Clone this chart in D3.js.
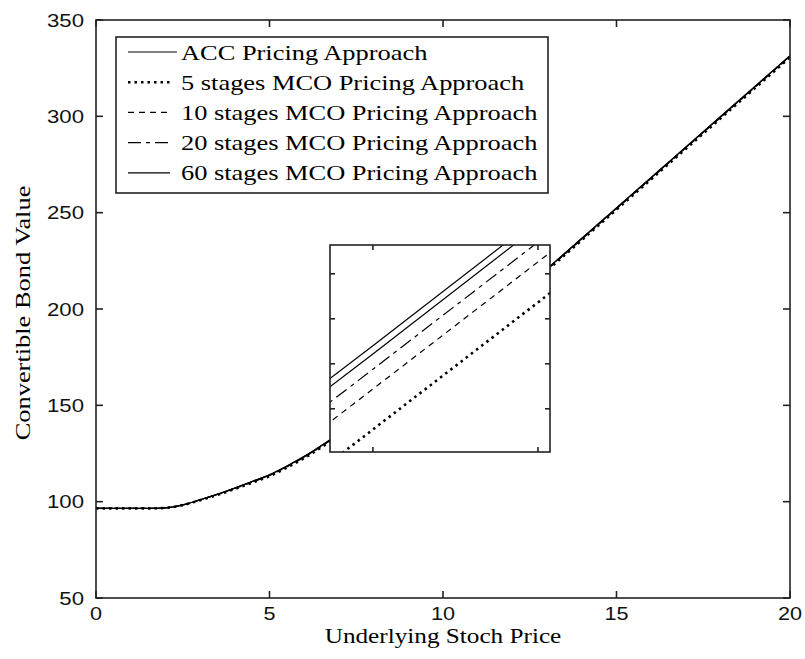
<!DOCTYPE html>
<html>
<head>
<meta charset="utf-8">
<script src="https://cdn.jsdelivr.net/npm/d3@7"></script>
<style>
    body { margin: 0; background: #fff; }
    svg { display: block; }
</style>
</head>
<body>
<script>
// underlying stock price grid
const stockPrice = [0, 0.5, 1, 1.5, 2, 2.5, 3, 3.5, 4, 4.5, 5, 5.5, 6, 6.5, 7, 7.5, 8, 8.5, 9, 9.5, 10,
    10.5, 11, 11.5, 12, 12.5, 13, 13.5, 14, 14.5, 15, 15.5, 16, 16.5, 17, 17.5, 18, 18.5, 19, 19.5, 20];

// convertible bond values
const accValues = [96.5, 96.5, 96.5, 96.5, 96.8, 98.3, 101.0, 103.9, 107.1, 110.5, 114.0, 118.5, 123.5, 129.2, 135.3, 141.7, 148.3, 155.0, 161.8, 168.7, 175.7,
    182.8, 190.0, 197.5, 205.2, 213.0, 220.9, 228.8, 236.7, 244.6, 252.5, 260.4, 268.3, 276.2, 284.1, 292.0, 299.9, 307.8, 315.7, 323.6, 331.5];
const mco5Values = [96.5, 96.5, 96.5, 96.5, 96.8, 98.21, 100.77, 103.53, 106.59, 109.85, 113.26, 117.66, 122.62, 128.27, 134.37, 140.77, 147.37, 154.07, 160.87, 167.77, 174.77,
    181.87, 189.07, 196.57, 204.27, 212.07, 219.97, 227.87, 235.77, 243.67, 251.57, 259.47, 267.37, 275.27, 283.17, 291.07, 298.97, 306.87, 314.77, 322.67, 330.57];
const mco10Values = [96.5, 96.5, 96.5, 96.5, 96.8, 98.25, 100.88, 103.71, 106.84, 110.16, 113.62, 118.07, 123.04, 128.72, 134.82, 141.22, 147.82, 154.52, 161.32, 168.22, 175.22,
    182.32, 189.52, 197.02, 204.72, 212.52, 220.42, 228.32, 236.22, 244.12, 252.02, 259.92, 267.82, 275.72, 283.62, 291.52, 299.42, 307.32, 315.22, 323.12, 331.02];
const mco20Values = [96.5, 96.5, 96.5, 96.5, 96.8, 98.27, 100.94, 103.80, 106.96, 110.32, 113.79, 118.27, 123.25, 128.94, 135.04, 141.44, 148.04, 154.74, 161.54, 168.44, 175.44,
    182.54, 189.74, 197.24, 204.94, 212.74, 220.64, 228.54, 236.44, 244.34, 252.24, 260.14, 268.04, 275.94, 283.84, 291.74, 299.64, 307.54, 315.44, 323.34, 331.24];
const mco60Values = [96.5, 96.5, 96.5, 96.5, 96.8, 98.29, 100.98, 103.86, 107.05, 110.44, 113.93, 118.42, 123.41, 129.11, 135.21, 141.61, 148.21, 154.91, 161.71, 168.61, 175.61,
    182.71, 189.91, 197.41, 205.11, 212.91, 220.81, 228.71, 236.61, 244.51, 252.41, 260.31, 268.21, 276.11, 284.01, 291.91, 299.81, 307.71, 315.61, 323.51, 331.41];

const seriesNames = ["ACC Pricing Approach", "5 stages MCO Pricing Approach", "10 stages MCO Pricing Approach",
    "20 stages MCO Pricing Approach", "60 stages MCO Pricing Approach"];

const xTicks = [0, 5, 10, 15, 20];
const yTicks = [50, 100, 150, 200, 250, 300, 350];
// zoomed window
const insetX = [9.974, 10.1073];
const insetY = [174.52, 176.82];
const insetXTicks = [10, 10.1];
const insetYTicks = [175, 175.5, 176, 176.5];

document.addEventListener("DOMContentLoaded", function() {
    const width = 805, height = 659;
    const m = {left: 96, right: 790, top: 20, bottom: 598};
    const serif = "'Liberation Serif', 'Times New Roman', serif";
    const sans = "'Liberation Sans', Arial, sans-serif";
    const stretchK = 1.2; // text in the picture is drawn wide

    const svg = d3.select("body").append("svg")
        .attr("width", width)
        .attr("height", height);

    const x = d3.scaleLinear().domain([0, 20]).range([m.left, m.right]);
    const y = d3.scaleLinear().domain([50, 350]).range([m.bottom, m.top]);

    const series = [
        {name: seriesNames[0], values: accValues, dash: null, w: 1.2},
        {name: seriesNames[1], values: mco5Values, dash: "2.5,4", w: 2.6},
        {name: seriesNames[2], values: mco10Values, dash: "6,5", w: 1.2},
        {name: seriesNames[3], values: mco20Values, dash: "13,5,4,5", w: 1.2},
        {name: seriesNames[4], values: mco60Values, dash: null, w: 1.2}
    ];

    const stretch = (sel) => {
        sel.each(function() {
            const len = this.getComputedTextLength();
            d3.select(this).attr("textLength", len * stretchK).attr("lengthAdjust", "spacingAndGlyphs");
        });
    };

    const defs = svg.append("defs");
    defs.append("clipPath").attr("id", "clipMain")
        .append("rect").attr("x", m.left).attr("y", m.top)
        .attr("width", m.right - m.left).attr("height", m.bottom - m.top);

    // main curves
    const line = d3.line()
        .x((d, i) => x(stockPrice[i]))
        .y(d => y(d))
        .curve(d3.curveMonotoneX);

    svg.append("g").attr("clip-path", "url(#clipMain)")
        .selectAll("path")
        .data(series)
        .join("path")
        .attr("d", d => line(d.values))
        .attr("fill", "none")
        .attr("stroke", "#000")
        .attr("stroke-width", d => d.w)
        .attr("stroke-dasharray", d => d.dash);

    // frame + inward ticks
    const frame = svg.append("g").attr("stroke", "#222").attr("stroke-width", 1.6);
    frame.append("rect")
        .attr("x", m.left).attr("y", m.top)
        .attr("width", m.right - m.left).attr("height", m.bottom - m.top)
        .attr("fill", "none");
    const tl = 7;
    xTicks.forEach(t => {
        frame.append("line").attr("x1", x(t)).attr("x2", x(t)).attr("y1", m.bottom).attr("y2", m.bottom - tl);
        frame.append("line").attr("x1", x(t)).attr("x2", x(t)).attr("y1", m.top).attr("y2", m.top + tl);
    });
    yTicks.forEach(t => {
        frame.append("line").attr("x1", m.left).attr("x2", m.left + tl).attr("y1", y(t)).attr("y2", y(t));
        frame.append("line").attr("x1", m.right).attr("x2", m.right - tl).attr("y1", y(t)).attr("y2", y(t));
    });

    // tick labels
    svg.append("g").selectAll("text")
        .data(xTicks)
        .join("text")
        .attr("x", d => x(d))
        .attr("y", 620)
        .attr("text-anchor", "middle")
        .attr("font-family", sans)
        .attr("font-size", 18)
        .attr("fill", "#111")
        .text(d => d)
        .call(stretch);

    svg.append("g").selectAll("text")
        .data(yTicks)
        .join("text")
        .attr("x", 84)
        .attr("y", d => y(d) + 6.5)
        .attr("text-anchor", "end")
        .attr("font-family", sans)
        .attr("font-size", 18.5)
        .attr("fill", "#111")
        .text(d => d)
        .call(stretch);

    // axis titles
    svg.append("text")
        .attr("x", (m.left + m.right) / 2)
        .attr("y", 643)
        .attr("text-anchor", "middle")
        .attr("font-family", serif)
        .attr("font-size", 21)
        .text("Underlying Stoch Price")
        .call(stretch);

    svg.append("text")
        .attr("transform", "translate(30," + 313 + ") rotate(-90)")
        .attr("text-anchor", "middle")
        .attr("font-family", serif)
        .attr("font-size", 22)
        .text("Convertible Bond Value")
        .call(stretch);

    // legend
    const lg = svg.append("g");
    lg.append("rect")
        .attr("x", 116).attr("y", 37)
        .attr("width", 432).attr("height", 156)
        .attr("fill", "#fff")
        .attr("stroke", "#222")
        .attr("stroke-width", 1.6);
    const rows = lg.selectAll("g.row")
        .data(series)
        .join("g")
        .attr("class", "row")
        .attr("transform", (d, i) => "translate(0," + (52 + i * 30.2) + ")");
    rows.append("line")
        .attr("x1", 128).attr("x2", (d, i) => i === 0 ? 177 : 170)
        .attr("stroke", "#000")
        .attr("stroke-width", d => d.w)
        .attr("stroke-dasharray", d => d.dash);
    rows.append("text")
        .attr("x", 181)
        .attr("y", 7.5)
        .attr("font-family", serif)
        .attr("font-size", 22)
        .text(d => d.name)
        .call(stretch);

    // inset zoom axes
    const ib = {left: 330, right: 550, top: 245, bottom: 452};
    const ix = d3.scaleLinear().domain(insetX).range([ib.left, ib.right]);
    const iy = d3.scaleLinear().domain(insetY).range([ib.bottom, ib.top]);

    defs.append("clipPath").attr("id", "clipInset")
        .append("rect").attr("x", ib.left).attr("y", ib.top)
        .attr("width", ib.right - ib.left).attr("height", ib.bottom - ib.top);

    svg.append("rect")
        .attr("x", ib.left).attr("y", ib.top)
        .attr("width", ib.right - ib.left).attr("height", ib.bottom - ib.top)
        .attr("fill", "#fff");

    const insetLine = d3.line()
        .x((d, i) => ix(stockPrice[i]))
        .y(d => iy(d))
        .curve(d3.curveMonotoneX);

    svg.append("g").attr("clip-path", "url(#clipInset)")
        .selectAll("path")
        .data(series)
        .join("path")
        .attr("d", d => insetLine(d.values))
        .attr("fill", "none")
        .attr("stroke", "#000")
        .attr("stroke-width", d => d.w)
        .attr("stroke-dasharray", d => d.dash);

    const iframe = svg.append("g").attr("stroke", "#222").attr("stroke-width", 1.6);
    iframe.append("rect")
        .attr("x", ib.left).attr("y", ib.top)
        .attr("width", ib.right - ib.left).attr("height", ib.bottom - ib.top)
        .attr("fill", "none");
    const itl = 5;
    insetXTicks.forEach(t => {
        iframe.append("line").attr("x1", ix(t)).attr("x2", ix(t)).attr("y1", ib.bottom).attr("y2", ib.bottom - itl);
        iframe.append("line").attr("x1", ix(t)).attr("x2", ix(t)).attr("y1", ib.top).attr("y2", ib.top + itl);
    });
    insetYTicks.forEach(t => {
        iframe.append("line").attr("x1", ib.left).attr("x2", ib.left + itl).attr("y1", iy(t)).attr("y2", iy(t));
        iframe.append("line").attr("x1", ib.right).attr("x2", ib.right - itl).attr("y1", iy(t)).attr("y2", iy(t));
    });
});
</script>
</body>
</html>
